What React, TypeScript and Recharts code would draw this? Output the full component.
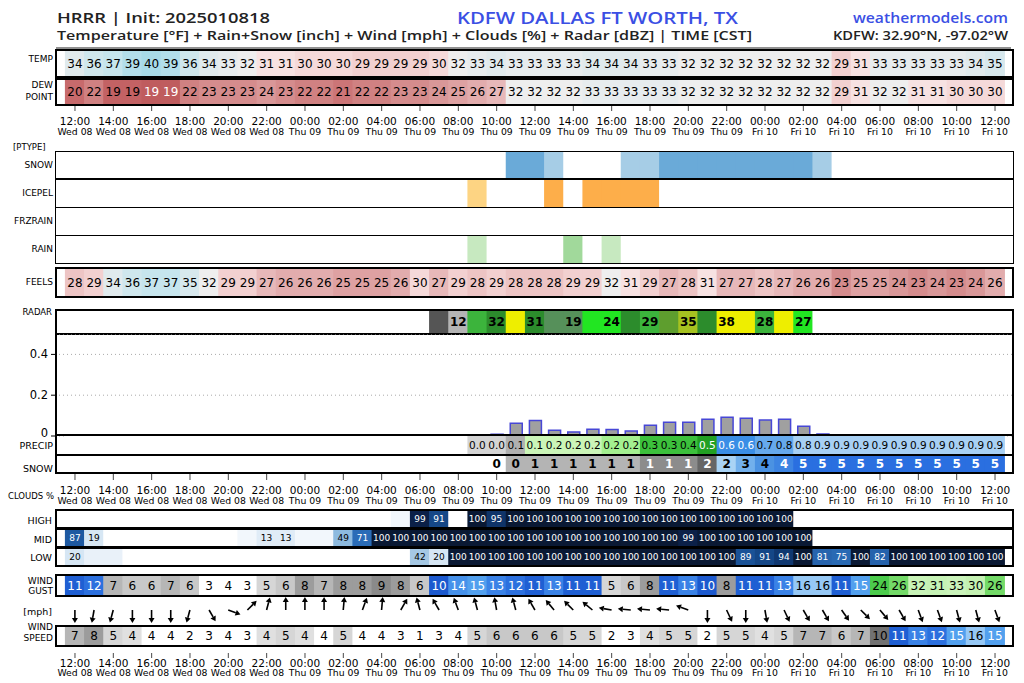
import React from "react";
import { BarChart, Bar, XAxis, YAxis, CartesianGrid } from "recharts";

// ---------------- DATA ----------------
const HOURS = [0, 1, 2, 3, 4, 5, 6, 7, 8, 9, 10, 11, 12, 13, 14, 15, 16, 17, 18, 19, 20, 21, 22, 23, 24, 25, 26, 27, 28, 29, 30, 31, 32, 33, 34, 35, 36, 37, 38, 39, 40, 41, 42, 43, 44, 45, 46, 47, 48];
const TICK_TIMES = ["12:00", "14:00", "16:00", "18:00", "20:00", "22:00", "00:00", "02:00", "04:00", "06:00", "08:00", "10:00", "12:00", "14:00", "16:00", "18:00", "20:00", "22:00", "00:00", "02:00", "04:00", "06:00", "08:00", "10:00", "12:00"];
const TICK_DAYS = ["Wed 08", "Wed 08", "Wed 08", "Wed 08", "Wed 08", "Wed 08", "Thu 09", "Thu 09", "Thu 09", "Thu 09", "Thu 09", "Thu 09", "Thu 09", "Thu 09", "Thu 09", "Thu 09", "Thu 09", "Thu 09", "Fri 10", "Fri 10", "Fri 10", "Fri 10", "Fri 10", "Fri 10", "Fri 10"];

const TEMP = [34, 36, 37, 39, 40, 39, 36, 34, 33, 32, 31, 31, 30, 30, 30, 29, 29, 29, 29, 30, 32, 33, 34, 33, 33, 33, 33, 34, 34, 34, 33, 33, 32, 32, 32, 32, 32, 32, 32, 32, 29, 31, 33, 33, 33, 33, 33, 34, 35];
const DEWPOINT = [20, 22, 19.3, 19.3, 18.7, 18.7, 22, 23, 23, 23, 24, 23, 22, 22, 21, 22, 22, 23, 23, 24, 25, 26, 27, 32, 32, 32, 32, 33, 33, 33, 33, 33, 32, 32, 32, 32, 32, 32, 32, 32, 29, 31, 32, 32, 31, 31, 30, 30, 30];
const FEELS = [28, 29, 34, 36, 37, 37, 35, 32, 29, 29, 27, 26, 26, 26, 25, 25, 25, 26, 30, 27, 29, 28, 29, 28, 28, 28, 29, 29, 32, 31, 29, 27, 28, 31, 27, 27, 28, 27, 26, 26, 23, 25, 25, 24, 23, 24, 23, 24, 26];

// precipitation type intensity: 0 none, 1 light, 2 strong
const PT_SNOW = [0, 0, 0, 0, 0, 0, 0, 0, 0, 0, 0, 0, 0, 0, 0, 0, 0, 0, 0, 0, 0, 0, 0, 2, 2, 1, 0, 0, 0, 1, 1, 2, 2, 2, 2, 2, 2, 2, 2, 1, 0, 0, 0, 0, 0, 0, 0, 0, 0];
const PT_ICEPEL = [0, 0, 0, 0, 0, 0, 0, 0, 0, 0, 0, 0, 0, 0, 0, 0, 0, 0, 0, 0, 0, 1, 0, 0, 0, 2, 0, 2, 2, 2, 2, 0, 0, 0, 0, 0, 0, 0, 0, 0, 0, 0, 0, 0, 0, 0, 0, 0, 0];
const PT_FRZRAIN = [0, 0, 0, 0, 0, 0, 0, 0, 0, 0, 0, 0, 0, 0, 0, 0, 0, 0, 0, 0, 0, 0, 0, 0, 0, 0, 0, 0, 0, 0, 0, 0, 0, 0, 0, 0, 0, 0, 0, 0, 0, 0, 0, 0, 0, 0, 0, 0, 0];
const PT_RAIN = [0, 0, 0, 0, 0, 0, 0, 0, 0, 0, 0, 0, 0, 0, 0, 0, 0, 0, 0, 0, 0, 1, 0, 0, 0, 0, 2, 0, 1, 0, 0, 0, 0, 0, 0, 0, 0, 0, 0, 0, 0, 0, 0, 0, 0, 0, 0, 0, 0];

const RADAR = [null, null, null, null, null, null, null, null, null, null, null, null, null, null, null, null, null, null, null, 5, 12, 29, 32, 37, 31, 17, 19, 22, 24, 31, 29, 33.5, 35, 31, 38, 37, 28, 36, 27, null, null, null, null, null, null, null, null, null, null];

const PRECIP_HOURLY = [null, null, null, null, null, null, null, null, null, null, null, null, null, null, null, null, null, null, null, null, null, 0.004, 0.008, 0.062, 0.076, 0.028, 0.02, 0.033, 0.032, 0.024, 0.053, 0.067, 0.067, 0.082, 0.092, 0.087, 0.078, 0.082, 0.048, 0.01, null, null, null, null, null, null, null, null, null];
const PRECIP_TOTAL = [null, null, null, null, null, null, null, null, null, null, null, null, null, null, null, null, null, null, null, null, null, 0.0, 0.01, 0.07, 0.14, 0.16, 0.18, 0.19, 0.22, 0.24, 0.29, 0.34, 0.41, 0.49, 0.58, 0.64, 0.72, 0.78, 0.83, 0.86, 0.86, 0.86, 0.86, 0.86, 0.86, 0.86, 0.86, 0.86, 0.86];
const SNOW_TOTAL = [null, null, null, null, null, null, null, null, null, null, null, null, null, null, null, null, null, null, null, null, null, null, 0.1, 0.4, 0.6, 0.8, 0.9, 1.0, 1.1, 1.2, 1.3, 1.4, 1.45, 1.7, 2.2, 3.0, 3.6, 4.2, 4.6, 4.8, 4.9, 5.0, 5.0, 5.0, 5.1, 5.1, 5.1, 5.1, 5.1];

const CLOUD_HIGH = [0, 0, 0, 0, 0, 0, 0, 0, 0, 0, 0, 0, 0, 0, 0, 0, 0, 5, 99, 91, 0, 100, 95, 100, 100, 100, 100, 100, 100, 100, 100, 100, 100, 100, 100, 100, 100, 100, 0, 0, 0, 0, 0, 0, 0, 0, 0, 0, 0];
const CLOUD_MID = [87, 19, 0, 0, 0, 0, 0, 0, 0, 5, 13, 13, 5, 5, 49, 71, 100, 100, 100, 100, 100, 100, 100, 100, 100, 100, 100, 100, 100, 100, 100, 100, 99, 100, 100, 100, 100, 100, 100, 0, 0, 0, 0, 0, 0, 0, 0, 0, 0];
const CLOUD_LOW = [20, 8, 8, 0, 0, 0, 0, 0, 0, 0, 0, 0, 0, 0, 0, 0, 0, 0, 42, 20, 100, 100, 100, 100, 100, 100, 100, 100, 100, 100, 100, 100, 100, 100, 100, 89, 91, 94, 100, 81, 75, 100, 82, 100, 100, 100, 100, 100, 100];

const WIND_GUST = [11, 12, 7, 6, 6, 7, 6, 3, 3.8, 3, 5, 6, 8, 7, 8, 8, 9, 8, 6, 10.3, 14, 15, 13, 12, 11, 13, 11, 11, 5, 6, 8, 11, 13, 10.3, 8, 11, 11, 13, 16, 16, 11, 15, 24, 26, 32, 31, 33, 30, 26];
const WIND_DIR = [0, 10, 15, 0, 0, 0, 15, 330, 290, 225, 195, 180, 180, 180, 185, 200, 185, 210, 165, 150, 160, 165, 170, 165, 150, 140, 135, 130, 100, 95, 95, 95, 110, 0, 335, 0, 350, 335, 330, 330, 325, 315, 320, 330, 340, 340, 345, 345, 340];
const WIND_SPEED = [7, 8, 5, 4.2, 3.8, 3.8, 2, 3, 3.8, 3, 4.2, 5, 4.2, 3.8, 5, 3.8, 3.8, 3, 1, 3, 3.8, 5, 6, 6, 6, 6, 5, 5, 2, 3, 4.2, 5, 5, 2, 5, 5, 4.2, 5, 7, 7, 6, 7, 9.8, 11, 13, 12, 15, 16, 15];

// ---------------- STYLE HELPERS ----------------
const FONT = "'DejaVu Sans', sans-serif";
const HFONT = "'Open Sans', 'Noto Sans', sans-serif";
const X0 = 55;
const FW = 959;
const PAD = { left: 10.4, right: 9.4 };

type Stop = [number, string];
function rgb(c: string) {
  const n = parseInt(c.slice(1), 16);
  return [(n >> 16) & 255, (n >> 8) & 255, n & 255];
}
function interp(stops: Stop[], v: number) {
  if (v <= stops[0][0]) return stops[0][1];
  for (let i = 1; i < stops.length; i++) {
    if (v <= stops[i][0]) {
      const [a, ca] = stops[i - 1];
      const [b, cb] = stops[i];
      const t = (v - a) / (b - a);
      const A = rgb(ca), B = rgb(cb);
      return `rgb(${Math.round(A[0] + (B[0] - A[0]) * t)},${Math.round(A[1] + (B[1] - A[1]) * t)},${Math.round(A[2] + (B[2] - A[2]) * t)})`;
    }
  }
  return stops[stops.length - 1][1];
}
function step(th: Stop[], v: number) {
  for (const [t, c] of th) if (v < t) return c;
  return th[th.length - 1][1];
}

const TEMP_STOPS: Stop[] = [[18, "#bb5456"], [20, "#c76a6c"], [23, "#d58c8d"], [26, "#e2acad"], [29, "#f2d0d0"], [31, "#f7e2e2"], [32, "#eeeeee"], [34, "#e0eaed"], [37, "#c6e5ed"], [40, "#a8dbe8"], [42, "#90d3e6"]];
const tempColor = (v: any) => (v == null ? "#fff" : interp(TEMP_STOPS, v));
const tempText = (v: any) => (v < 19 ? "#fff" : "#000");
const intLabel = (v: any) => (v == null ? "" : String(Math.round(v)));

const ptColor = (levels: string[]) => (v: any) => levels[v || 0];
const SNOW_PT = ["#ffffff", "#a6cde6", "#6aaad8"];
const ICE_PT = ["#ffffff", "#fdd483", "#fdae4a"];
const FRZ_PT = ["#ffffff", "#f4a6c8", "#e8609a"];
const RAIN_PT = ["#ffffff", "#c7e9c0", "#a1d99b"];
const noLabel = () => "";

const radarColor = (v: any) =>
  v == null ? "#fff" : step([[10, "#555555"], [15, "#b4b4b4"], [20, "#56905a"], [27.5, "#22e622"], [30.5, "#3cb43c"], [33, "#2c8c2c"], [34.5, "#5e9e2e"], [36, "#a6c220"], [999, "#eeee00"]], v);
const radarLabel = (v: any, i: number) => (v != null && i % 2 === 0 ? String(Math.round(v)) : "");

const precipColor = (v: any) =>
  v == null ? "#fff" : step([[0.05, "#d4d4d4"], [0.1, "#b0b0b0"], [0.2, "#cbf5b8"], [0.25, "#a4f090"], [0.45, "#3cc03c"], [0.55, "#22a022"], [0.65, "#3a8ee6"], [0.8, "#66a9ec"], [999, "#a8d0f4"]], v);
const precipText = (v: any) => (v != null && v >= 0.45 && v < 0.65 ? "#fff" : "#000");
const precipLabel = (v: any) => (v == null ? "" : v.toFixed(1));

const snowColor = (v: any) =>
  v == null ? "#fff" : step([[0.25, "#ffffff"], [1.25, "#b4b4b4"], [1.5, "#8c8c8c"], [2, "#666666"], [2.5, "#a9d3f5"], [3.5, "#72b0ec"], [4, "#4b92e2"], [4.5, "#3d84e2"], [999, "#2a6fe0"]], v);
const snowText = (v: any) => (v != null && ((v >= 1.25 && v < 2) || v >= 4) ? "#fff" : "#000");

const CLOUD_STOPS: Stop[] = [[0, "#ffffff"], [10, "#e4eef8"], [20, "#d6e6f4"], [42, "#a5c8e4"], [50, "#8ab8de"], [70, "#2a6db8"], [80, "#2866b0"], [88, "#1d579f"], [92, "#12417f"], [96, "#0e2f62"], [99, "#0b2048"], [100, "#0a1934"]];
const cloudColor = (v: any) => (v == null ? "#fff" : interp(CLOUD_STOPS, v));
const cloudLabel = (v: any) => (v != null && v >= 10 ? String(v) : "");
const cloudText = (v: any) => (v > 60 ? "#fff" : "#000");

const windColor = (v: any) => {
  if (v == null || v < 4) return "#ffffff";
  if (v < 10) return interp([[4, "#e2e2e2"], [5, "#d6d6d6"], [6, "#c8c8c8"], [7, "#b6b6b6"], [8, "#9c9c9c"], [9, "#8a8a8a"], [10, "#6c6c6c"]], v);
  return interp([[10, "#1b57cc"], [11, "#1f5fd3"], [12, "#2c70de"], [13, "#3a82e6"], [15, "#52a0ee"], [16, "#96c8f5"], [20, "#b0dcf6"], [22, "#5fd45f"], [24, "#4ccc4c"], [26, "#74da68"], [30, "#c4f1b2"], [34, "#ccf4bc"]], v);
};
const windText = (v: any) => (v >= 10 && v < 16 ? "#fff" : "#000");

// ---------------- COMPONENTS ----------------
type AxisCfg = { h: number; l0: number; l1: number; t1: number; t2: number };

function TimeTick({ x, y, payload, cfg }: any) {
  const k = HOURS.indexOf(payload.value) / 2;
  return (
    <g>
      <line x1={x} x2={x} y1={y + cfg.l0} y2={y + cfg.l1} stroke="#333" strokeWidth={0.9} />
      <text x={x} y={y + cfg.t1} textAnchor="middle" dominantBaseline="central" fontFamily={FONT} fontSize={10.5} fill="#000">{TICK_TIMES[k]}</text>
      <text x={x} y={y + cfg.t2} textAnchor="middle" dominantBaseline="central" fontFamily={FONT} fontSize={9.3} fill="#000">{TICK_DAYS[k]}</text>
    </g>
  );
}

function HeatRow(props: any) {
  const { top, height, values, colorOf, textOf, textColorOf, fontSize = 12, fontWeight = 400, border = 2, axis } = props;
  const rows = HOURS.map((h, i) => {
    const v = values[i];
    return { h, one: 1, fill: colorOf(v, i), label: textOf(v, i), tc: textColorOf ? textColorOf(v, i) : "#000" };
  });
  const axisH = axis ? axis.h : 0;
  const shape = (p: any) => {
    const d = p.payload;
    return (
      <g>
        <rect x={p.x - 0.5} y={p.y} width={p.width + 1} height={p.height} fill={d.fill} />
        {d.label ? (
          <text x={p.x + p.width / 2} y={p.y + p.height / 2} textAnchor="middle" dominantBaseline="central" fontFamily={FONT} fontSize={fontSize} fontWeight={fontWeight} fill={d.tc}>
            {d.label}
          </text>
        ) : null}
      </g>
    );
  };
  return (
    <div style={{ position: "absolute", left: X0, top, width: FW, height: height + axisH }}>
      <BarChart width={FW} height={height + axisH} data={rows} margin={{ top: 0, right: 0, bottom: 0, left: 0 }} barCategoryGap={0} barGap={0}>
        <XAxis
          dataKey="h"
          type="category"
          hide={!axis}
          height={axis ? axisH : undefined}
          padding={PAD}
          interval={1}
          tickLine={false}
          axisLine={false}
          tickSize={0}
          tickMargin={0}
          tick={axis ? (tp: any) => <TimeTick {...tp} cfg={axis} /> : false}
        />
        <YAxis hide type="number" domain={[0, 1]} />
        <Bar dataKey="one" isAnimationActive={false} shape={shape} />
      </BarChart>
      <div style={{ position: "absolute", left: 0, top: 0, width: FW, height, border: `${border}px solid #000`, boxSizing: "border-box", pointerEvents: "none" }} />
    </div>
  );
}

function ArrowShape(p: any) {
  const d = p.payload.dir;
  const cx = p.x + p.width / 2;
  const cy = p.y + 13;
  const rad = (d * Math.PI) / 180;
  const ux = -Math.sin(rad), uy = Math.cos(rad);
  const L = 13, hl = 5, hw = 3;
  const tx = cx + ux * L, ty = cy + uy * L;
  const bx = tx - ux * hl, by = ty - uy * hl;
  const px = -uy, py = ux;
  return (
    <g>
      <line x1={cx} y1={cy} x2={bx} y2={by} stroke="#000" strokeWidth={1.6} />
      <polygon points={`${tx},${ty} ${bx + px * hw},${by + py * hw} ${bx - px * hw},${by - py * hw}`} fill="#000" />
    </g>
  );
}

const TOP_AXIS: AxisCfg = { h: 34, l0: 0, l1: 5, t1: 14.5, t2: 25 };
const MID_AXIS: AxisCfg = { h: 34, l0: 0, l1: 6, t1: 16, t2: 26 };
const BOT_AXIS: AxisCfg = { h: 34, l0: 6, l1: 11, t1: 16, t2: 25.5 };

const Lbl = ({ x, y, t, size = 9, anchor = "end" }: any) => (
  <text x={x} y={y} textAnchor={anchor} dominantBaseline="central" fontFamily={FONT} fontSize={size} fill="#000">{t}</text>
);

export default function App() {
  const precipRows = HOURS.map((h, i) => ({ h, p: PRECIP_HOURLY[i] }));
  const arrowRows = HOURS.map((h, i) => ({ h, one: 1, dir: WIND_DIR[i] }));
  return (
    <div style={{ position: "absolute", left: 0, top: 0, width: 1024, height: 683, background: "#fff", overflow: "hidden" }}>
      <svg width={1024} height={683} style={{ position: "absolute", left: 0, top: 0 }}>
        <text x={57} y={22.5} fontFamily={HFONT} fontWeight={600} fontSize={15} fill="#222" textLength={213} lengthAdjust="spacingAndGlyphs">HRRR | Init: 2025010818</text>
        <text x={457} y={23.5} fontFamily={HFONT} fontWeight={600} fontSize={16} fill="#3b4fe4" textLength={281} lengthAdjust="spacingAndGlyphs">KDFW DALLAS FT WORTH, TX</text>
        <text x={853} y={22.5} fontFamily={HFONT} fontWeight={600} fontSize={14.5} fill="#3b4fe4" textLength={155} lengthAdjust="spacingAndGlyphs">weathermodels.com</text>
        <text x={57} y={40} fontFamily={HFONT} fontWeight={600} fontSize={13} fill="#222" textLength={695} lengthAdjust="spacingAndGlyphs">Temperature [°F] + Rain+Snow [inch] + Wind [mph] + Clouds [%] + Radar [dBZ] | TIME [CST]</text>
        <text x={833} y={40} fontFamily={HFONT} fontWeight={600} fontSize={12.5} fill="#222" textLength={175} lengthAdjust="spacingAndGlyphs">KDFW: 32.90°N, -97.02°W</text>
        <line x1={56} x2={1011} y1={48} y2={48} stroke="#222" strokeWidth={1.2} />

        <Lbl x={53} y={59} t="TEMP" />
        <Lbl x={53} y={85} t="DEW" />
        <Lbl x={53} y={96.5} t="POINT" />
        <Lbl x={13} y={147} t="[PTYPE]" anchor="start" size={8.5} />
        <Lbl x={53} y={165} t="SNOW" />
        <Lbl x={53} y={193} t="ICEPEL" />
        <Lbl x={53} y={221} t="FRZRAIN" />
        <Lbl x={53} y={249} t="RAIN" />
        <Lbl x={53} y={282} t="FEELS" />
        <Lbl x={52} y={312} t="RADAR" size={8.5} />
        <Lbl x={53} y={445} t="PRECIP" size={9.5} />
        <Lbl x={53} y={468} t="SNOW" size={9.5} />
        <Lbl x={8} y={496} t="CLOUDS %" anchor="start" size={8.5} />
        <Lbl x={52} y={520} t="HIGH" size={9.5} />
        <Lbl x={52} y={539} t="MID" size={9.5} />
        <Lbl x={52} y={557} t="LOW" size={9.5} />
        <Lbl x={53} y={581} t="WIND" size={9} />
        <Lbl x={53} y={591} t="GUST" size={9} />
        <Lbl x={52} y={611} t="[mph]" size={9.5} />
        <Lbl x={53} y={627} t="WIND" size={9} />
        <Lbl x={53} y={638} t="SPEED" size={9} />
      </svg>

      <HeatRow top={49} height={29} values={TEMP} colorOf={tempColor} textOf={intLabel} textColorOf={tempText} />
      <HeatRow top={78} height={28} values={DEWPOINT} colorOf={tempColor} textOf={intLabel} textColorOf={tempText} axis={TOP_AXIS} />

      <HeatRow top={151} height={28} values={PT_SNOW} colorOf={ptColor(SNOW_PT)} textOf={noLabel} border={1} />
      <HeatRow top={179} height={29} values={PT_ICEPEL} colorOf={ptColor(ICE_PT)} textOf={noLabel} border={1} />
      <HeatRow top={207} height={29} values={PT_FRZRAIN} colorOf={ptColor(FRZ_PT)} textOf={noLabel} border={1} />
      <HeatRow top={235} height={29} values={PT_RAIN} colorOf={ptColor(RAIN_PT)} textOf={noLabel} border={1} />

      <HeatRow top={267} height={31} values={FEELS} colorOf={tempColor} textOf={intLabel} textColorOf={tempText} />

      <HeatRow top={309} height={26} values={RADAR} colorOf={radarColor} textOf={radarLabel} fontWeight={700} fontSize={12} />

      <div style={{ position: "absolute", left: 0, top: 334, width: X0 + FW, height: 112 }}>
        <BarChart width={X0 + FW} height={112} data={precipRows} margin={{ top: 0, right: 0, bottom: 10, left: 0 }} barCategoryGap={0}>
          <CartesianGrid vertical={false} stroke="#aaaaaa" strokeDasharray="1 3" />
          <XAxis dataKey="h" type="category" hide padding={PAD} />
          <YAxis
            type="number"
            domain={[0, 0.5]}
            ticks={[0, 0.2, 0.4]}
            width={X0}
            tickSize={4}
            tickMargin={3}
            axisLine={false}
            tickLine={{ stroke: "#000" }}
            tick={(tp: any) => (
              <text x={tp.x} y={tp.y - (tp.payload.value === 0 ? 3 : 0)} textAnchor="end" dominantBaseline="central" fontFamily={FONT} fontSize={11.5} fill="#000">
                {tp.payload.value === 0 ? "0" : tp.payload.value.toFixed(1)}
              </text>
            )}
          />
          <Bar dataKey="p" isAnimationActive={false} fill="#a0a0a0" stroke="#4747d6" strokeWidth={1.5} barSize={12} />
        </BarChart>
        <div style={{ position: "absolute", left: X0, top: 0, width: FW, height: 102, borderLeft: "2px solid #000", borderRight: "2px solid #000", boxSizing: "border-box", pointerEvents: "none" }} />
      </div>

      <HeatRow top={434} height={22} values={PRECIP_TOTAL} colorOf={precipColor} textOf={precipLabel} textColorOf={precipText} fontSize={10.5} />
      <HeatRow top={454} height={20} values={SNOW_TOTAL} colorOf={snowColor} textOf={intLabel} textColorOf={snowText} fontSize={12} fontWeight={700} axis={MID_AXIS} />

      <HeatRow top={509} height={20} values={CLOUD_HIGH} colorOf={cloudColor} textOf={cloudLabel} textColorOf={cloudText} fontSize={9} />
      <HeatRow top={528} height={20} values={CLOUD_MID} colorOf={cloudColor} textOf={cloudLabel} textColorOf={cloudText} fontSize={9} />
      <HeatRow top={547} height={20} values={CLOUD_LOW} colorOf={cloudColor} textOf={cloudLabel} textColorOf={cloudText} fontSize={9} />

      <HeatRow top={574} height={23} values={WIND_GUST} colorOf={windColor} textOf={intLabel} textColorOf={windText} fontSize={12} />

      <div style={{ position: "absolute", left: X0, top: 597, width: FW, height: 28 }}>
        <BarChart width={FW} height={28} data={arrowRows} margin={{ top: 0, right: 0, bottom: 0, left: 0 }} barCategoryGap={0} barGap={0}>
          <XAxis dataKey="h" type="category" hide padding={PAD} />
          <YAxis hide type="number" domain={[0, 1]} />
          <Bar dataKey="one" isAnimationActive={false} shape={ArrowShape} />
        </BarChart>
      </div>

      <HeatRow top={625} height={22} values={WIND_SPEED} colorOf={windColor} textOf={intLabel} textColorOf={windText} fontSize={12} axis={BOT_AXIS} />
    </div>
  );
}
